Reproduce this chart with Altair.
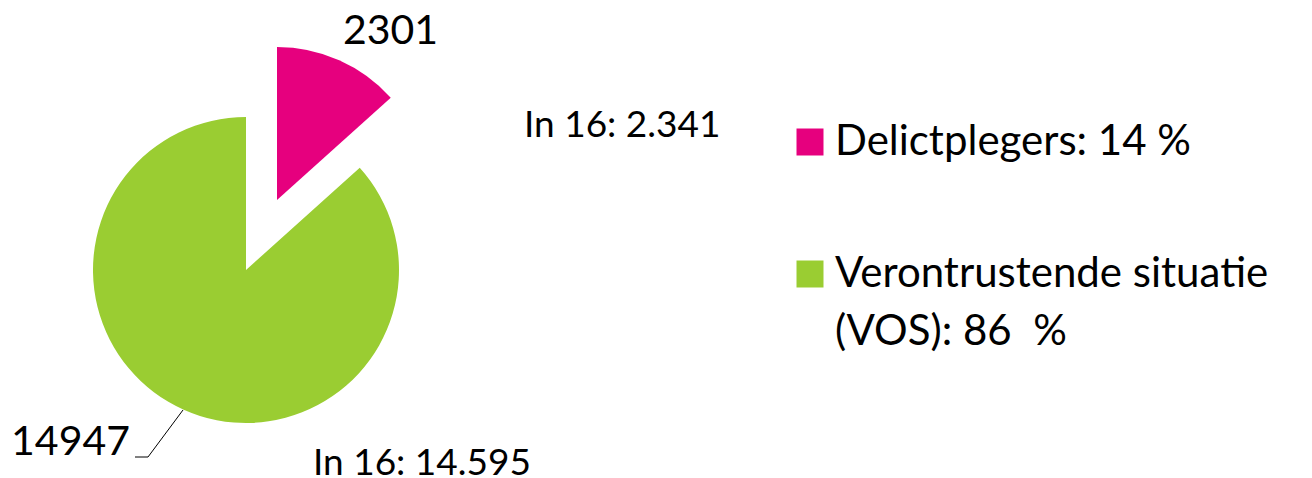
import altair as alt
import pandas as pd

# data
categories = ["Delictplegers", "Verontrustende situatie (VOS)"]
values = [2301, 14947]
percents = ["14 %", "86\u00a0 %"]
previous = ["In 16: 2.341", "In 16: 14.595"]
legend_labels = ["Delictplegers: 14 %", "Verontrustende situatie|(VOS): 86\u00a0 %"]
colors = ["#E6007E", "#9ACD32"]

df = pd.DataFrame({
    "idx": [0, 1],
    "category": categories,
    "value": values,
    "label": legend_labels,
    "prev": previous,
})

FONT = "Lato"

base = alt.Chart(df).encode(
    theta=alt.Theta("value:Q", stack=True),
    order=alt.Order("idx:Q"),
    color=alt.Color(
        "label:N",
        scale=alt.Scale(domain=legend_labels, range=colors),
        legend=alt.Legend(
            title=None,
            orient="none",
            legendX=781,
            legendY=113,
            symbolType="square",
            symbolSize=729,
            symbolStrokeWidth=0,
            labelFont=FONT,
            labelFontSize=42,
            labelColor="black",
            labelLimit=600,
            labelOffset=4,
            rowPadding=90,
            padding=0,
            labelExpr="split(datum.label, '|')",
        ),
    ),
)

exploded = base.mark_arc(outerRadius=153).encode(
    x=alt.value(269), y=alt.value(192),
    opacity=alt.condition(alt.datum.idx == 0, alt.value(1), alt.value(0)),
)
main = base.mark_arc(outerRadius=153).encode(
    x=alt.value(238), y=alt.value(262),
    opacity=alt.condition(alt.datum.idx == 1, alt.value(1), alt.value(0)),
)

txt = alt.Chart(df)

lbl_val0 = txt.transform_filter(alt.datum.idx == 0).mark_text(
    font=FONT, fontSize=41, align="left", baseline="alphabetic", color="black"
).encode(text="value:Q", x=alt.value(335), y=alt.value(36))

lbl_prev0 = txt.transform_filter(alt.datum.idx == 0).mark_text(
    font=FONT, fontSize=37, align="left", baseline="alphabetic", color="black"
).encode(text="prev:N", x=alt.value(516), y=alt.value(129))

lbl_val1 = txt.transform_filter(alt.datum.idx == 1).mark_text(
    font=FONT, fontSize=41, align="right", baseline="alphabetic", color="black"
).encode(text="value:Q", x=alt.value(122), y=alt.value(447))

lbl_prev1 = txt.transform_filter(alt.datum.idx == 1).mark_text(
    font=FONT, fontSize=37, align="left", baseline="alphabetic", color="black"
).encode(text="prev:N", x=alt.value(305), y=alt.value(467))

one = alt.Chart(pd.DataFrame({"a": [0]}))
leader_h = one.mark_rule(color="black", strokeWidth=1).encode(
    x=alt.value(127), x2=alt.value(140), y=alt.value(449), y2=alt.value(449)
)
leader_d = one.mark_rule(color="black", strokeWidth=1).encode(
    x=alt.value(140), x2=alt.value(175), y=alt.value(449), y2=alt.value(402)
)

chart = alt.layer(
    main, exploded, lbl_val0, lbl_prev0, lbl_val1, lbl_prev1, leader_h, leader_d
).properties(
    width=1296, height=470, padding=0, autosize="none"
).configure(
    view=alt.ViewConfig(stroke=None),
    style={"guide-label": {"lineHeight": 58}},
)

chart.save("out.html", embed_options={"renderer": "svg", "actions": False})
